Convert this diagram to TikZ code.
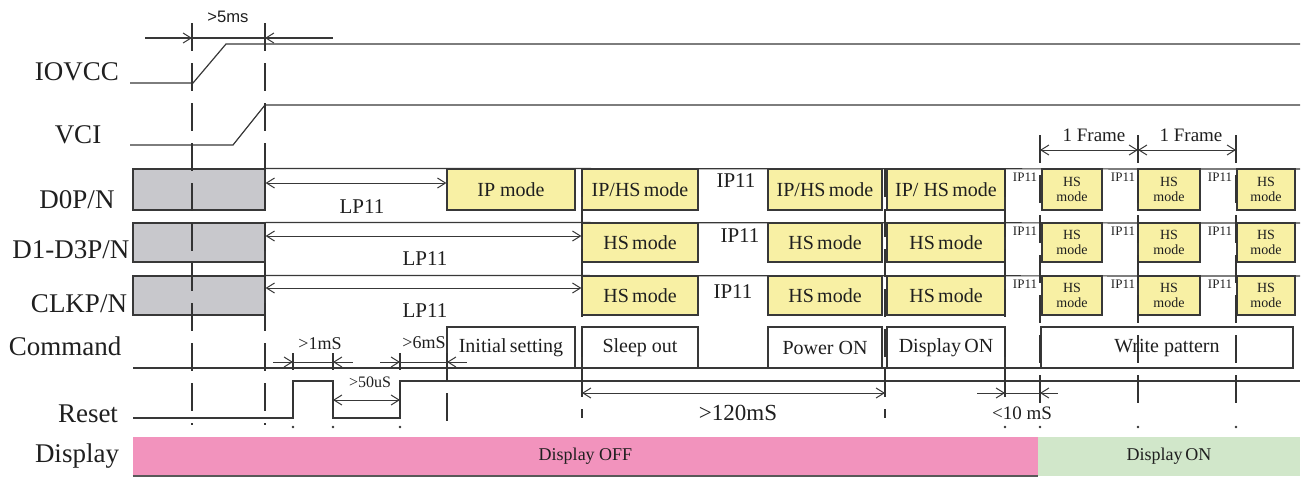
\documentclass[tikz,border=0pt]{standalone}
\usepackage{fontspec}
\setmainfont{Liberation Serif}
\setsansfont{Liberation Sans}
\usetikzlibrary{arrows.meta, fit}

\definecolor{lanegray}{HTML}{C8C8CC}
\definecolor{hsyellow}{HTML}{F8F0A4}
\definecolor{offpink}{HTML}{F293BD}
\definecolor{ongreen}{HTML}{D1E7CA}
\definecolor{inkgray}{HTML}{383838}

\begin{document}
\begin{tikzpicture}[
  x=0.5pt, y=-0.5pt,
  every node/.style={align=center, inner sep=0pt, text=black!88},
  signame/.style={font=\fontsize{13.5}{15}\selectfont},
  wire/.style   ={draw=inkgray, line width=0.6pt},
  lane/.style   ={draw=inkgray, line width=0.6pt, fill=lanegray},
  hsbox/.style  ={draw=inkgray, line width=0.6pt, fill=hsyellow},
  cmdbox/.style ={draw=inkgray, line width=0.6pt, fill=white},
  boxtxt/.style ={font=\fontsize{10}{11}\selectfont},
  frametxt/.style={font=\fontsize{7}{7.4}\selectfont},
  bartxt/.style ={font=\fontsize{9}{10}\selectfont},
  lpnote/.style ={font=\fontsize{10.5}{11}\selectfont},
  lpsmall/.style={font=\fontsize{6.5}{7}\selectfont},
  dimtxt/.style ={font=\fontsize{9}{10}\selectfont},
  dimarr/.style ={draw=inkgray, line width=0.5pt,
                  {Straight Barb[length=4pt,width=5pt]}-{Straight Barb[length=4pt,width=5pt]}},
  dimtip/.style ={draw=inkgray, line width=0.5pt, -{Straight Barb[length=4pt,width=5pt]}},
  rail/.style   ={draw=black!80, line width=1.4pt, dash pattern=on 14pt off 6pt},
  railtick/.style={draw=black!80, line width=1.4pt},
]
\useasboundingbox (0,0) rectangle (1303,479);

% ---- Signal names ---------------------------------------------------------
\node[signame] (nIOVCC) at (77,72)  {IOVCC};
\node[signame] (nVCI)   at (78,135) {VCI};
\node[signame] (nD0)    at (77,200) {D0P/N};
\node[signame] (nD1)    at (71,250) {D1-D3P/N};
\node[signame] (nCLK)   at (79,304) {CLKP/N};
\node[signame] (nCMD)   at (65,346) {Command};
\node[signame] (nRST)   at (88,414) {Reset};
\node[signame] (nDISP)  at (77,456) {Display};

% ---- Display bar ----------------------------------------------------------
\node[fill=offpink, fit={(133,437) (1038,476)},
      label={[bartxt]center:{Display OFF}}] (dispoff) {};
\node[fill=ongreen, fit={(1038,437) (1300,476)},
      label={[bartxt]center:{Display\,ON}}] (dispon) {};
\draw[draw=black!65, line width=1pt] (dispoff.south west) -- (dispoff.south east);

% ---- Supplies -------------------------------------------------------------
\draw[wire] (130,83) -- (193,83) -- (226,44) -- (1300,44);
\draw[wire] (130,145) -- (233,145) -- (265,105) -- (1300,105);
\draw[wire] (145,38) -- (333,38);
\draw[dimtip] (165,38) -- (192,38);
\draw[dimtip] (295,38) -- (265,38);
\node[font=\sffamily\fontsize{8.3}{9}\selectfont] (t5ms) at (228,17) {>5ms};

% ---- MIPI lanes: LP11 before start ----------------------------------------
\node[lane, fit={(133,169) (265,210)}] (d0gray) {};
\node[lane, fit={(133,223) (265,262)}] (d1gray) {};
\node[lane, fit={(133,276) (265,315)}] (ckgray) {};
\draw[wire] (d0gray.north east) -- (1300,169);
\draw[wire] (d1gray.north east) -- (1300,223);
\draw[wire] (ckgray.north east) -- (1300,276);

% D0 row
\node[hsbox, fit={(447,169) (575,210)},  label={[boxtxt]center:{IP mode}}]      (d0lp)   {};
\node[hsbox, fit={(582,169) (698,210)},  label={[boxtxt]center:{IP/HS\,mode}}]  (d0mixA) {};
\node[hsbox, fit={(768,169) (882,210)},  label={[boxtxt]center:{IP/HS\,mode}}]  (d0mixB) {};
\node[hsbox, fit={(887,169) (1005,210)}, label={[boxtxt]center:{IP/ HS\,mode}}] (d0mixC) {};
\node[lpnote] (d0ip) at (736,181) {IP11};

% D1-D3 row
\node[hsbox, fit={(582,223) (698,262)},  label={[boxtxt]center:{HS\,mode}}] (d1hsA) {};
\node[hsbox, fit={(768,223) (882,262)},  label={[boxtxt]center:{HS\,mode}}] (d1hsB) {};
\node[hsbox, fit={(887,223) (1005,262)}, label={[boxtxt]center:{HS\,mode}}] (d1hsC) {};
\node[lpnote] (d1ip) at (740,236) {IP11};

% CLK row
\node[hsbox, fit={(582,276) (698,315)},  label={[boxtxt]center:{HS\,mode}}] (ckhsA) {};
\node[hsbox, fit={(768,276) (882,315)},  label={[boxtxt]center:{HS\,mode}}] (ckhsB) {};
\node[hsbox, fit={(887,276) (1005,315)}, label={[boxtxt]center:{HS\,mode}}] (ckhsC) {};
\node[lpnote] (ckip) at (733,292) {IP11};

% LP11 spans
\draw[dimarr] (d0gray.east |- 0,183) -- (d0lp.west |- 0,183);
\draw[dimarr] (d1gray.east |- 0,236) -- (d1hsA.west |- 0,236);
\draw[dimarr] (ckgray.east |- 0,288) -- (ckhsA.west |- 0,288);
\node[lpnote] (d0lp11) at (362,207) {LP11};
\node[lpnote] (d1lp11) at (425,259) {LP11};
\node[lpnote] (cklp11) at (425,311) {LP11};

% frame-by-frame HS bursts
\foreach \r/\ya/\yb/\yt in {d0/169/210/177, d1/223/262/231, ck/276/315/284} {
  \node[hsbox, fit={(1042,\ya) (1102,\yb)}, label={[frametxt]center:{HS\\mode}}] (\r-f1) {};
  \node[hsbox, fit={(1138,\ya) (1200,\yb)}, label={[frametxt]center:{HS\\mode}}] (\r-f2) {};
  \node[hsbox, fit={(1237,\ya) (1295,\yb)}, label={[frametxt]center:{HS\\mode}}] (\r-f3) {};
  \node[lpsmall] at (1025,\yt) {IP11};
  \node[lpsmall] at (1123,\yt) {IP11};
  \node[lpsmall] at (1220,\yt) {IP11};
}

% ---- Command --------------------------------------------------------------
\draw[wire] (133,368) -- (1293,368);
\node[cmdbox, fit={(447,327) (575,368)},   label={[boxtxt]center:{Initial\,setting}}] (cinit)  {};
\node[cmdbox, fit={(582,327) (698,368)},   label={[boxtxt]center:{Sleep out}}]        (csleep) {};
\node[cmdbox, fit={(768,327) (882,368)},   label={[boxtxt]center:{Power ON}}]         (cpwr)   {};
\node[cmdbox, fit={(887,327) (1005,368)},  label={[boxtxt]center:{Display\,ON}}]      (cdisp)  {};
\node[cmdbox, fit={(1041,327) (1293,368)}, label={[boxtxt]center:{Write pattern}}]    (cwrite) {};

% ---- Reset ----------------------------------------------------------------
\draw[wire] (133,418) -- (293,418) -- (293,381) -- (333,381) -- (333,418)
  -- (400,418) -- (400,381) -- (1300,381);
\foreach \x in {293,333,400} {
  \draw[railtick] (\x,353) -- (\x,370);
  \draw[railtick] (\x,383) -- (\x,410);
}

% ---- Timing edges ---------------------------------------------------------
\draw[rail] (192,23) -- (192,425);
\draw[rail] (265,23) -- (265,425);
\draw[rail] (447,353) -- (447,428);
\foreach \x in {582,885} \draw[rail] (\x,169) -- (\x,418);
\draw[rail] (1005,169) -- (1005,406);
\foreach \x in {1040,1138,1236} \draw[rail] (\x,135) -- (\x,405);
\foreach \x in {293,333,400,1005,1040,1138,1236}
  \fill[black!80] (\x,427) circle (1.3);

% ---- Timing annotations ---------------------------------------------------
\draw[wire, line width=0.5pt] (273,362) -- (353,362);
\draw[dimtip] (275,362) -- (293,362);
\draw[dimtip] (351,362) -- (333,362);
\node[dimtxt] (t1ms) at (320,344) {>1mS};

\draw[dimarr] (333,400) -- (400,400);
\node[font=\fontsize{8}{9}\selectfont] (t50us) at (370,382) {>50uS};

\draw[wire, line width=0.5pt] (380,362) -- (467,362);
\draw[dimtip] (382,362) -- (400,362);
\draw[dimtip] (465,362) -- (447,362);
\node[dimtxt] (t6ms) at (424,343) {>6mS};

\draw[dimarr] (582,393) -- (885,393);
\node[font=\fontsize{11.5}{12}\selectfont] (t120ms) at (738,413) {>120mS};

\draw[wire, line width=0.5pt] (977,393) -- (1058,393);
\draw[dimtip] (979,393) -- (1005,393);
\draw[dimtip] (1056,393) -- (1040,393);
\node[font=\fontsize{9.5}{10}\selectfont] (t10ms) at (1022,413) {<10 mS};

\draw[dimarr] (1040,150) -- (1138,150);
\draw[dimarr] (1138,150) -- (1236,150);
\node[font=\fontsize{9.5}{10}\selectfont] (tfr1) at (1094,135) {1 Frame};
\node[font=\fontsize{9.5}{10}\selectfont] (tfr2) at (1191,135) {1 Frame};
\end{tikzpicture}
\end{document}
